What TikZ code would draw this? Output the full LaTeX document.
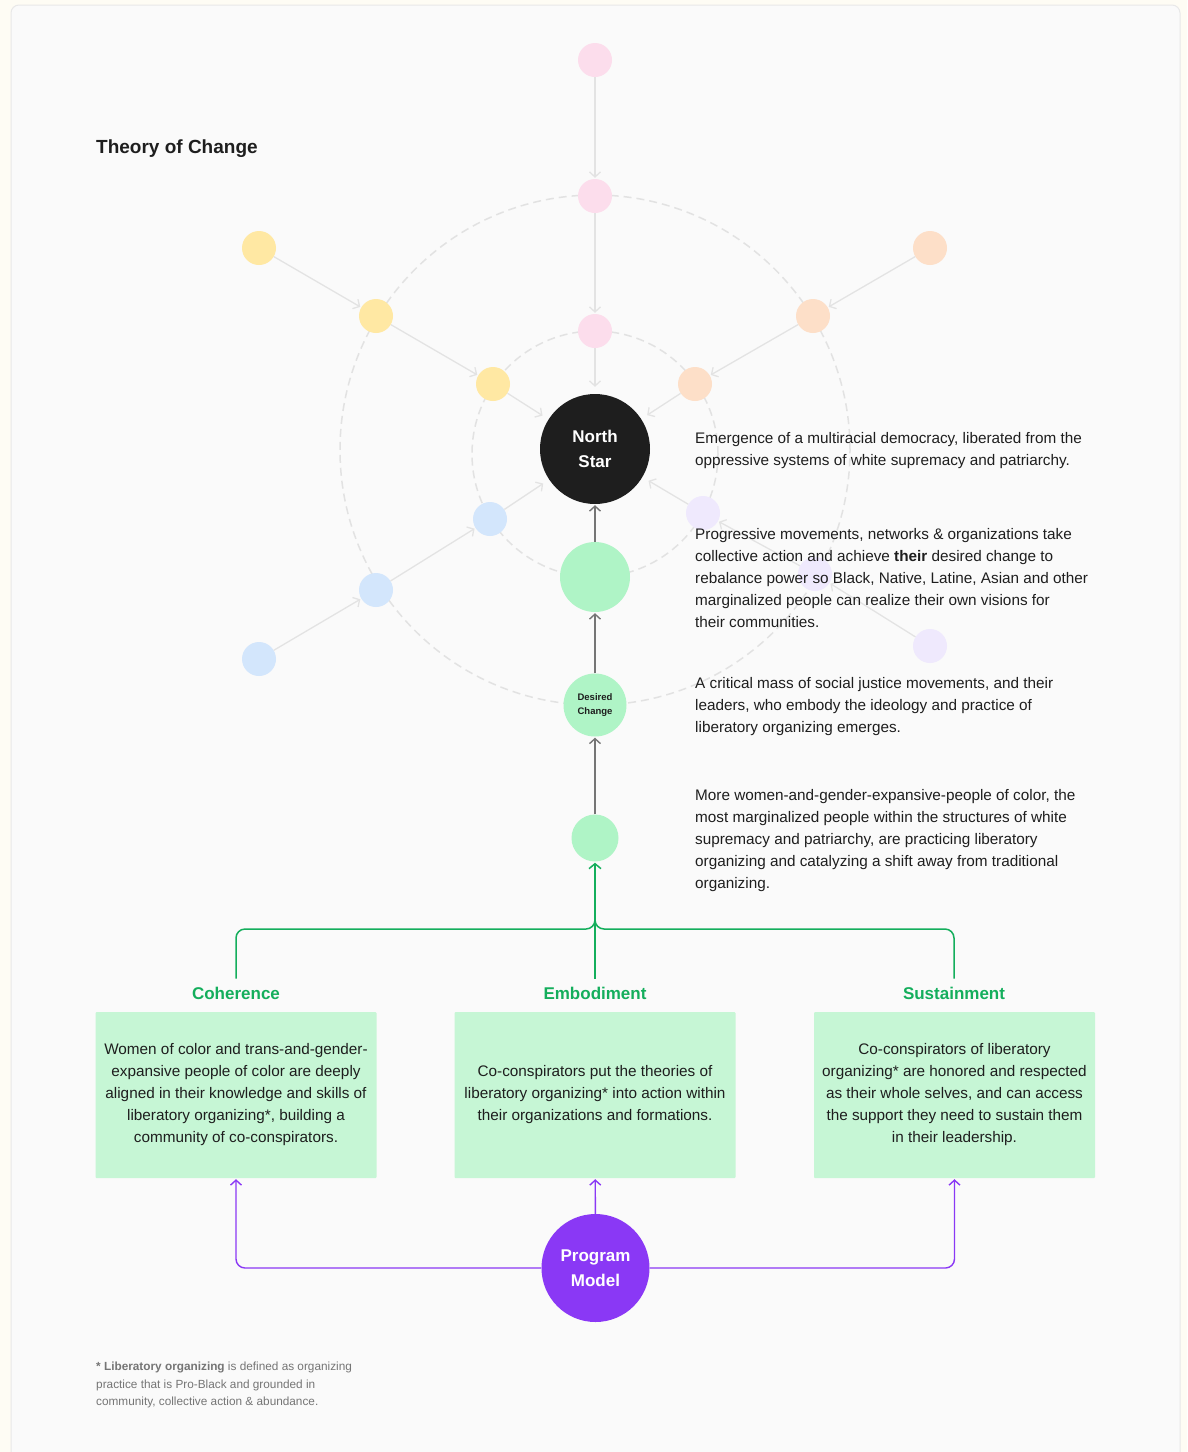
\documentclass[tikz,border=0pt]{standalone}
\usepackage{fontspec}
\setmainfont{Liberation Sans}
\usetikzlibrary{arrows.meta}
\definecolor{bgcream}{HTML}{FEFCF4}
\definecolor{panel}{HTML}{FAFAFA}
\definecolor{framec}{HTML}{E8E8E8}
\definecolor{pinkc}{HTML}{FCDDEC}
\definecolor{yellowc}{HTML}{FFE8A3}
\definecolor{orangec}{HTML}{FDDFC8}
\definecolor{bluec}{HTML}{D3E6FC}
\definecolor{lavc}{HTML}{EFE9FD}
\definecolor{greenc}{HTML}{AFF4C6}
\definecolor{boxc}{HTML}{C6F6D5}
\definecolor{inkc}{HTML}{1E1E1E}
\definecolor{pmc}{HTML}{8A38F5}
\definecolor{glinec}{HTML}{14AE5C}
\definecolor{darkc}{HTML}{757575}
\definecolor{lightc}{HTML}{E3E3E3}
\definecolor{dashc}{HTML}{E2E2E2}
\definecolor{notec}{HTML}{757575}
\tikzset{
  dot/.style={circle, minimum size=34pt, inner sep=0pt, draw=none},
  ring/.style={draw=dashc, line width=1.5pt, dash pattern=on 8pt off 5pt},
  lconn/.style={draw=lightc, line width=1.3pt, -{Straight Barb[length=5pt,width=11pt]}, shorten >=1pt},
  nsconn/.style={lconn, shorten >=7pt},
  dconn/.style={draw=darkc, line width=1.4pt, -{Straight Barb[length=5pt,width=11pt]}, shorten >=1pt},
  gline/.style={draw=glinec, line width=1.5pt},
  garrow/.style={gline, -{Straight Barb[length=5pt,width=12pt]}, shorten >=1pt},
  pline/.style={draw=pmc, line width=1.4pt, -{Straight Barb[length=5pt,width=11pt]}, shorten >=1pt},
  body/.style={font=\fontsize{15.3}{22}\selectfont, text=inkc},
  para/.style={body, anchor=north west, align=left, inner sep=0pt},
  heading/.style={font=\fontsize{17}{20}\selectfont\bfseries, text=glinec, inner sep=8pt},
  card/.style={body, fill=boxc, minimum width=281pt, minimum height=166pt, align=center, inner sep=0pt, rounded corners=1pt},
}
\begin{document}
\begin{tikzpicture}[x=1pt,y=-1pt]
\useasboundingbox (0,0) rectangle (1187,1452);
\fill[bgcream] (0,0) rectangle (1187,1452);
\draw[framec, line width=1pt, fill=panel, rounded corners=8pt] (11,5) rectangle (1180,1475);

% title
\node[anchor=west, inner sep=0pt, font=\fontsize{19}{22}\selectfont\bfseries, text=inkc] (title) at (96,149) {Theory of Change};

% dashed rings
\draw[ring] (595,454) circle[radius=123pt];
\draw[ring] (595,450) circle[radius=255pt];

% nodes
\node[circle, fill=inkc, minimum size=110pt, inner sep=0pt, align=center, text=white,
      font=\fontsize{17}{25}\selectfont\bfseries] (ns) at (595,449) {North\\Star};

\node[dot, fill=pinkc] (p3) at (595,60) {};
\node[dot, fill=pinkc] (p2) at (595,196) {};
\node[dot, fill=pinkc] (p1) at (595,331) {};
\node[dot, fill=yellowc] (y3) at (259,248) {};
\node[dot, fill=yellowc] (y2) at (376,316) {};
\node[dot, fill=yellowc] (y1) at (493,384) {};
\node[dot, fill=orangec] (o3) at (930,248) {};
\node[dot, fill=orangec] (o2) at (813,316) {};
\node[dot, fill=orangec] (o1) at (695,384) {};
\node[dot, fill=bluec] (b3) at (259,659) {};
\node[dot, fill=bluec] (b2) at (376,590) {};
\node[dot, fill=bluec] (b1) at (490,519) {};
\node[dot, fill=lavc] (u3) at (930,646) {};
\node[dot, fill=lavc] (u2) at (815,574) {};
\node[dot, fill=lavc] (u1) at (703,513) {};

\node[circle, fill=greenc, minimum size=70pt, inner sep=0pt] (bg) at (595,577) {};
\node[circle, fill=greenc, minimum size=63pt, inner sep=0pt, align=center, text=inkc,
      font=\fontsize{9.5}{14}\selectfont\bfseries] (dc) at (595,705) {Desired\\Change};
\node[circle, fill=greenc, minimum size=47pt, inner sep=0pt] (sg) at (595,838) {};

% light connectors
\draw[lconn] (p3) -- (p2);
\draw[lconn] (p2) -- (p1);
\draw[nsconn] (p1) -- (ns);
\draw[lconn] (y3) -- (y2);
\draw[lconn] (y2) -- (y1);
\draw[nsconn] (y1) -- (ns);
\draw[lconn] (o3) -- (o2);
\draw[lconn] (o2) -- (o1);
\draw[nsconn] (o1) -- (ns);
\draw[lconn] (b3) -- (b2);
\draw[lconn] (b2) -- (b1);
\draw[nsconn] (b1) -- (ns);
\draw[lconn] (u3) -- (u2);
\draw[lconn] (u2) -- (u1);
\draw[nsconn] (u1) -- (ns);

% dark center connectors
\draw[dconn] (bg) -- (ns);
\draw[dconn] (dc) -- (bg);
\draw[dconn] (sg) -- (dc);

% headings and cards
\node[heading] (coh) at (236,993) {Coherence};
\node[heading] (emb) at (595,993) {Embodiment};
\node[heading] (sus) at (954,993) {Sustainment};

\node[card] (cohbox) at (236,1095) {Women of color and trans-and-gender-\\expansive people of color are deeply\\aligned in their knowledge and skills of\\liberatory organizing*, building a\\community of co-conspirators.};
\node[card] (embbox) at (595,1095) {Co-conspirators put the theories of\\liberatory organizing* into action within\\their organizations and formations.};
\node[card] (susbox) at (954.5,1095) {Co-conspirators of liberatory\\organizing* are honored and respected\\as their whole selves, and can access\\the support they need to sustain them\\in their leadership.};

% green branches
\coordinate (jn) at (595,929);
\draw[gline, rounded corners=9pt] (coh.north) |- (jn) -- (595,905);
\draw[gline, rounded corners=9pt] (sus.north) |- (jn) -- (595,905);
\draw[garrow] (emb.north) -- (sg);

% program model
\node[circle, fill=pmc, minimum size=108pt, inner sep=0pt, align=center, text=white,
      font=\fontsize{17}{25}\selectfont\bfseries] (pm) at (595.5,1268) {Program\\Model};
\draw[pline, rounded corners=9pt] (pm) -| (cohbox);
\draw[pline, rounded corners=9pt] (pm) -| (susbox);
\draw[pline] (pm) -- (embbox);

% right-hand texts
\node[para] (t1) at (695,432) {Emergence of a multiracial democracy, liberated from the\\oppressive systems of white supremacy and patriarchy.};
\node[para] (t2) at (695,528) {Progressive movements, networks \& organizations take\\collective action and achieve \textbf{their} desired change to\\rebalance power so Black, Native, Latine, Asian and other\\marginalized people can realize their own visions for\\their communities.};
\node[para] (t3) at (695,677) {A critical mass of social justice movements, and their\\leaders, who embody the ideology and practice of\\liberatory organizing emerges.};
\node[para] (t4) at (695,789) {More women-and-gender-expansive-people of color, the\\most marginalized people within the structures of white\\supremacy and patriarchy, are practicing liberatory\\organizing and catalyzing a shift away from traditional\\organizing.};

% footnote
\node[anchor=north west, inner sep=0pt, align=left, text=notec, font=\fontsize{11.8}{17.5}\selectfont] (note) at (96,1362) {\textbf{* Liberatory organizing} is defined as organizing\\practice that is Pro-Black and grounded in\\community, collective action \& abundance.};
\end{tikzpicture}
\end{document}
